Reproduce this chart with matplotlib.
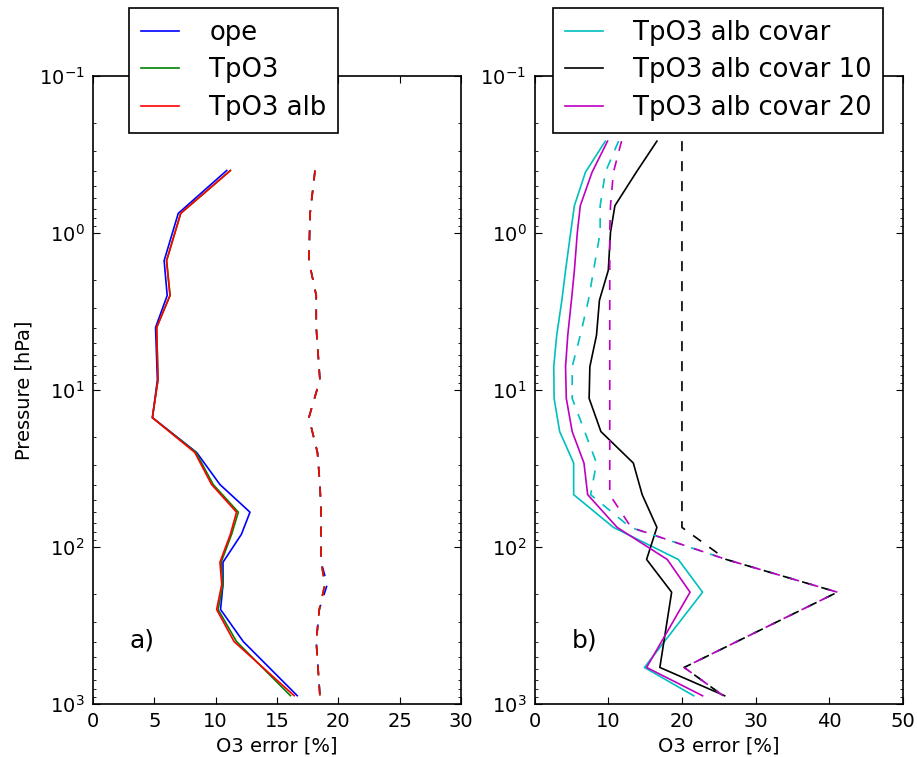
import matplotlib
matplotlib.use('Agg')
import matplotlib.pyplot as plt

# pressure levels [hPa]
p_a = [0.4, 0.75, 1.5, 2.5, 4.0, 8.6, 15, 25, 40, 60, 83, 125, 173, 250, 400, 885]
p_b = [0.26, 0.41, 0.67, 0.99, 1.73, 2.68, 4.48, 7.1, 11.3, 18.4, 29.2, 46.4,
       75, 120, 194, 585, 886]

# panel a) retrieval error (solid) and a priori error (dashed)
ope = [10.9, 6.95, 5.8, 6.05, 5.1, 5.25, 4.85, 8.45, 10.35, 12.8, 12.1, 10.6, 10.6, 10.4, 12.25, 16.65]
tpo3 = [11.2, 7.15, 6.0, 6.28, 5.19, 5.3, 4.84, 8.4, 9.8, 11.85, 11.3, 10.45, 10.6, 10.2, 11.7, 16.1]
tpo3_alb = [11.2, 7.15, 6.0, 6.28, 5.19, 5.3, 4.84, 8.3, 9.67, 11.7, 11.2, 10.35, 10.5, 10.08, 11.5, 16.4]
ope_ap = [18.1, 17.7, 17.6, 18.2, 18.2, 18.5, 17.6, 18.3, 18.5, 18.6, 18.6, 18.6, 19.1, 18.45, 18.2, 18.5]
tpo3_ap = [18.1, 17.7, 17.6, 18.2, 18.2, 18.5, 17.6, 18.3, 18.5, 18.6, 18.6, 18.6, 18.9, 18.45, 18.2, 18.5]
tpo3_alb_ap = [18.1, 17.7, 17.6, 18.2, 18.2, 18.5, 17.6, 18.3, 18.5, 18.6, 18.6, 18.6, 18.9, 18.45, 18.2, 18.5]

# panel b)
covar = [9.6, 6.9, 5.4, 4.9, 4.2, 3.7, 3.0, 2.6, 2.65, 3.4, 5.3, 5.3, 10.7, 19.5, 22.8, 14.9, 21.6]
covar10 = [16.6, 13.8, 10.9, 10.3, 10.0, 8.8, 8.4, 7.5, 7.4, 9.0, 13.4, 14.6, 16.6, 15.2, 18.6, 17.0, 25.8]
covar20 = [9.9, 7.8, 6.2, 5.8, 5.4, 5.0, 4.5, 4.2, 4.3, 5.1, 6.7, 7.2, 11.2, 18.0, 21.1, 15.2, 22.8]
covar_ap = [11.4, 9.6, 8.9, 8.9, 8.0, 7.3, 6.2, 5.1, 5.1, 6.8, 8.4, 7.6, 13.0, 26.0, 41.1, 20.3, 25.6]
covar10_ap = [20.0, 20.0, 20.0, 20.0, 20.0, 20.0, 20.0, 20.0, 20.0, 20.0, 20.0, 20.0, 20.0,
              26.0, 41.1, 20.3, 25.6]
covar20_ap = [11.8, 10.7, 10.3, 10.2, 10.2, 10.2, 10.2, 10.2, 10.2, 10.2, 10.2, 10.2, 13.1,
              26.0, 41.1, 20.3, 25.6]

blue, green, red = (0, 0, 1), (0, 0.5, 0), (1, 0, 0)
cyan, magenta = (0, 0.75, 0.75), (0.75, 0, 0.75)
lw = 1.2
dash = (6, 6)

fig = plt.figure(figsize=(9.17, 7.57), dpi=100)
ax1 = fig.add_axes([0.1014, 0.070, 0.4013, 0.8296])
ax2 = fig.add_axes([0.583, 0.070, 0.4017, 0.8296])

ax1.plot(ope, p_a, color=blue, lw=lw, label='ope')
ax1.plot(tpo3, p_a, color=green, lw=lw, label='TpO3')
ax1.plot(tpo3_alb, p_a, color=red, lw=lw, label='TpO3 alb')
ax1.plot(ope_ap, p_a, '--', dashes=dash, color=blue, lw=lw)
ax1.plot(tpo3_ap, p_a, '--', dashes=dash, color=green, lw=lw)
ax1.plot(tpo3_alb_ap, p_a, '--', dashes=dash, color=red, lw=lw)

ax2.plot(covar, p_b, color=cyan, lw=lw, label='TpO3 alb covar')
ax2.plot(covar10, p_b, color='k', lw=lw, label='TpO3 alb covar 10')
ax2.plot(covar20, p_b, color=magenta, lw=lw, label='TpO3 alb covar 20')
ax2.plot(covar_ap, p_b, '--', dashes=dash, color=cyan, lw=lw)
ax2.plot(covar10_ap, p_b, '--', dashes=dash, color='k', lw=lw)
ax2.plot(covar20_ap, p_b, '--', dashes=dash, color=magenta, lw=lw)

for ax, xmax, step in [(ax1, 30, 5), (ax2, 50, 10)]:
    ax.set_yscale('log')
    ax.set_ylim(1000, 0.1)
    ax.set_xlim(0, xmax)
    ax.set_xticks(range(0, xmax + 1, step))
    ax.set_xlabel('O3 error [%]', fontsize=14)
    ax.tick_params(which='both', direction='in', top=True, right=True, labelsize=14)
    ax.tick_params(which='major', length=5, pad=6)
    ax.tick_params(which='minor', length=2.5)
    for s in ax.spines.values():
        s.set_linewidth(1.2)

ax1.set_ylabel('Pressure [hPa]', fontsize=14)
ax1.text(0.10, 0.09, 'a)', transform=ax1.transAxes, fontsize=18)
ax2.text(0.10, 0.09, 'b)', transform=ax2.transAxes, fontsize=18)

leg_kw = dict(loc='upper left', fontsize=18.6, fancybox=False, framealpha=1,
              edgecolor='k', handlelength=1.5, handletextpad=1.15,
              labelspacing=0.45, borderpad=0.45, borderaxespad=0)
l1 = ax1.legend(bbox_to_anchor=(0.098, 1.108), **leg_kw)
l2 = ax2.legend(bbox_to_anchor=(0.050, 1.108), **leg_kw)
for l in (l1, l2):
    l.get_frame().set_linewidth(1.2)
    l.set_zorder(10)

fig.savefig('out.png', dpi=100)
